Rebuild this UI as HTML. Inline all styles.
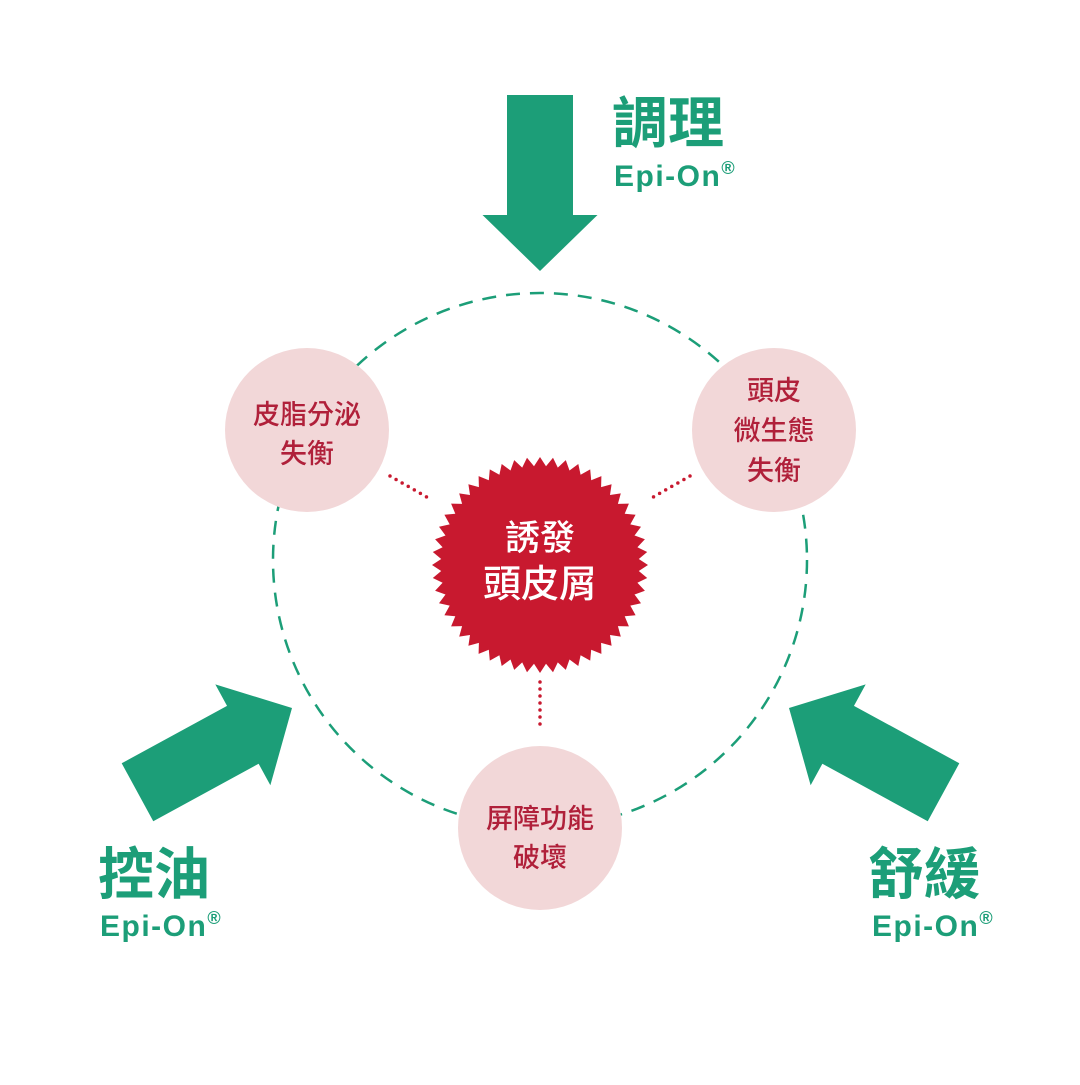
<!DOCTYPE html>
<html><head><meta charset="utf-8"><style>
html,body{margin:0;padding:0;background:#fff;}
body{width:1080px;height:1080px;overflow:hidden;}
text{font-family:"Liberation Sans","Noto Sans CJK TC",sans-serif;}
</style></head><body>
<svg width="1080" height="1080" viewBox="0 0 1080 1080" xmlns="http://www.w3.org/2000/svg">
<defs>
<polygon id="arr" points="-33,-176 33,-176 33,-56 57.5,-56 0,0 -57.5,-56 -33,-56" fill="#1c9e78"/>
</defs>
<circle cx="540" cy="560" r="267" fill="none" stroke="#1c9e78" stroke-width="2.5" stroke-dasharray="14 10"/>
<use href="#arr" transform="translate(540,271)"/>
<use href="#arr" transform="translate(292,708) rotate(-118.6)"/>
<use href="#arr" transform="translate(789,708) rotate(118.6)"/>
<g stroke="#c8192f" stroke-width="3.5" stroke-linecap="round" stroke-dasharray="0 7">
<line x1="390" y1="476" x2="432" y2="500"/>
<line x1="690" y1="476" x2="648" y2="500"/>
<line x1="540" y1="682" x2="540" y2="730"/>
</g>
<circle cx="307" cy="430" r="82" fill="#f2d7d8"/>
<circle cx="774" cy="430" r="82" fill="#f2d7d8"/>
<circle cx="540" cy="828" r="82" fill="#f2d7d8"/>
<polygon id="burst" fill="#c8192f"/>
<g fill="#b0203a" font-size="27" font-weight="500" text-anchor="middle">
<text x="307" y="424">皮脂分泌</text>
<text x="307" y="463">失衡</text>
<text x="774" y="400">頭皮</text>
<text x="774" y="440">微生態</text>
<text x="774" y="480">失衡</text>
<text x="540" y="828">屏障功能</text>
<text x="540" y="867">破壞</text>
</g>
<g fill="#fff" text-anchor="middle" font-weight="500">
<text x="540" y="550" font-size="35">誘發</text>
<text x="540" y="597" font-size="38">頭皮屑</text>
</g>
<g fill="#1c9e78" font-weight="bold">
<text x="612" y="143" font-size="56">調理</text>
<text x="98" y="894" font-size="56">控油</text>
<text x="868" y="894" font-size="56">舒緩</text>
</g>
<g fill="#1c9e78" font-weight="bold" font-size="30" letter-spacing="1.5">
<text x="614" y="186">Epi-On<tspan font-size="18" dy="-12">®</tspan></text>
<text x="100" y="936">Epi-On<tspan font-size="18" dy="-12">®</tspan></text>
<text x="872" y="936">Epi-On<tspan font-size="18" dy="-12">®</tspan></text>
</g>
</svg>
<script>
var n=52,pts=[],cx=540,cy=565;
for(var i=0;i<2*n;i++){var r=i%2?99:108;var a=Math.PI*i/n-Math.PI/2;pts.push((cx+r*Math.cos(a)).toFixed(1)+","+(cy+r*Math.sin(a)).toFixed(1));}
document.getElementById("burst").setAttribute("points",pts.join(" "));
</script>
</body></html>
